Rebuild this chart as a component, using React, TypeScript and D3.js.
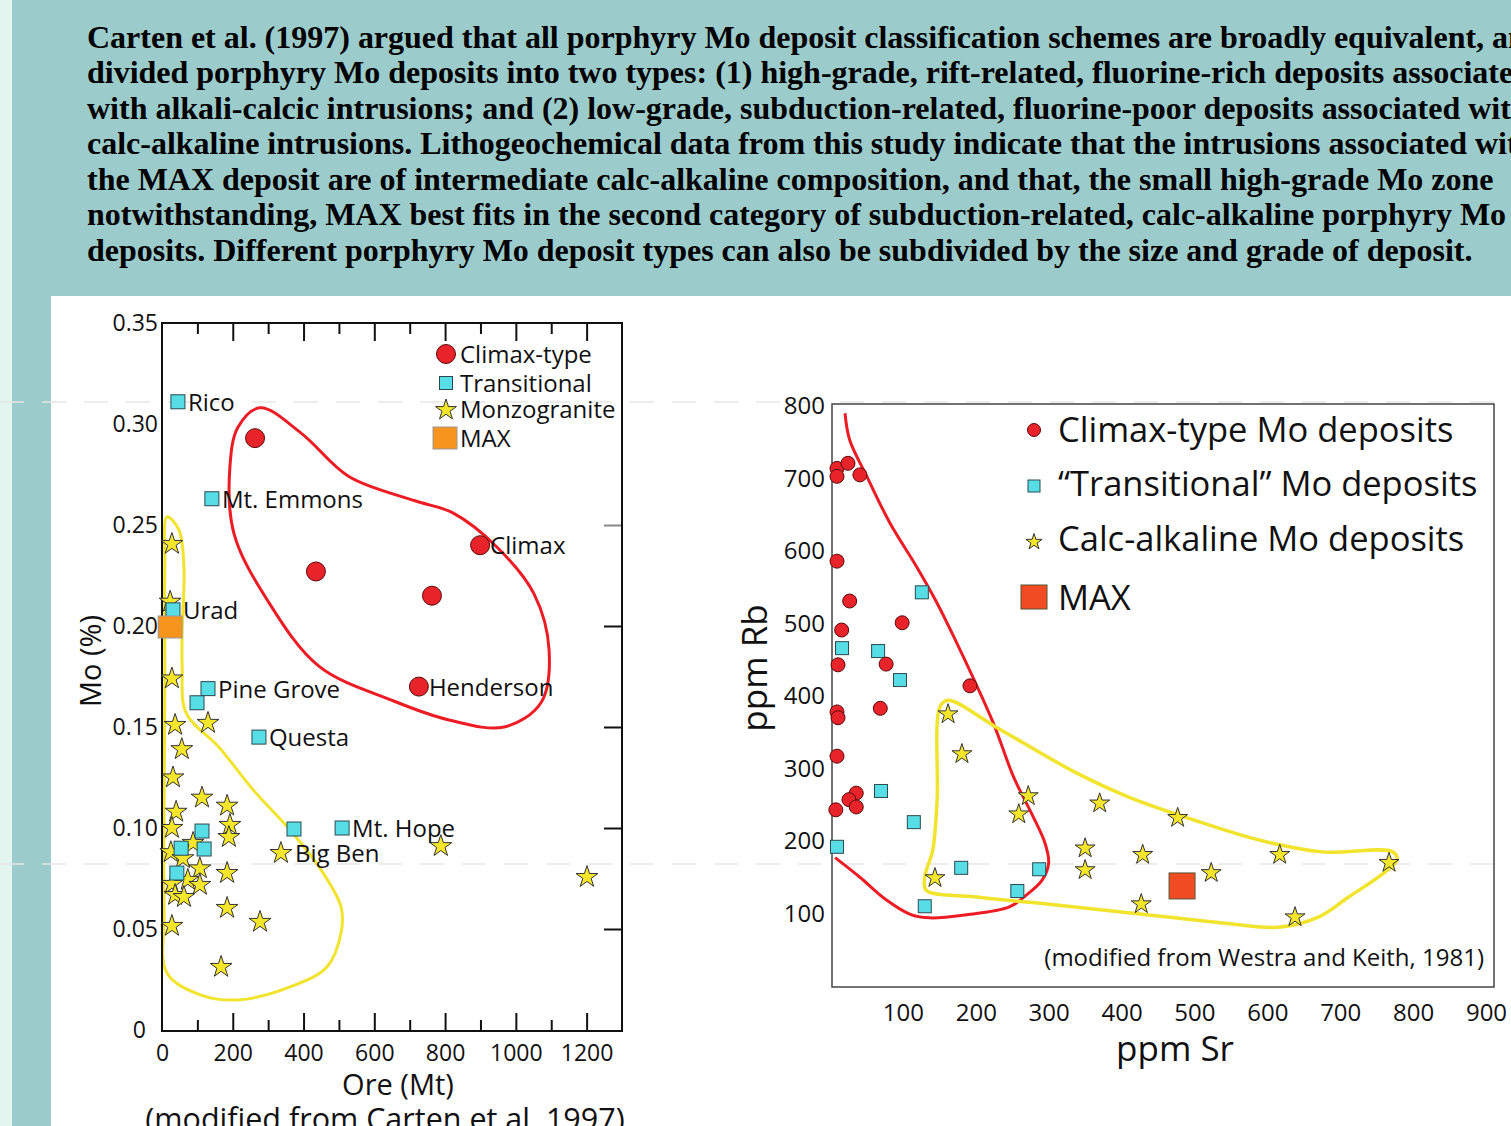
import React, { useEffect, useRef } from 'react';
import * as d3 from 'd3';

const headerLines = [
  'Carten et al. (1997) argued that all porphyry Mo deposit classification schemes are broadly equivalent, and',
  'divided porphyry Mo deposits into two types: (1) high-grade, rift-related, fluorine-rich deposits associated',
  'with alkali-calcic intrusions; and (2) low-grade, subduction-related, fluorine-poor deposits associated with',
  'calc-alkaline intrusions. Lithogeochemical data from this study indicate that the intrusions associated with',
  'the MAX deposit are of intermediate calc-alkaline composition, and that, the small high-grade Mo zone',
  'notwithstanding, MAX best fits in the second category of subduction-related, calc-alkaline porphyry Mo',
  'deposits. Different porphyry Mo deposit types can also be subdivided by the size and grade of deposit.',
];

// ---- left chart: Ore (Mt) vs Mo (%)
const oreTicks = [0, 200, 400, 600, 800, 1000, 1200];
const oreMajor = [200, 400, 600, 800, 1000, 1200];
const oreMinor = [100, 300, 500, 700, 900, 1100];
const moTicks = [0.05, 0.1, 0.15, 0.2, 0.25, 0.3, 0.35];
const moRightTicks = [0.05, 0.1, 0.15, 0.2];

const leftClimax = [
  { ore: 263, mo: 0.293, name: '' },
  { ore: 435, mo: 0.227, name: '' },
  { ore: 763, mo: 0.215, name: '' },
  { ore: 899, mo: 0.24, name: 'Climax' },
  { ore: 726, mo: 0.17, name: 'Henderson' },
];

const leftTransitional = [
  { ore: 45, mo: 0.311, name: 'Rico' },
  { ore: 141, mo: 0.263, name: 'Mt. Emmons' },
  { ore: 31, mo: 0.208, name: 'Urad' },
  { ore: 130, mo: 0.169, name: 'Pine Grove' },
  { ore: 99, mo: 0.162, name: '' },
  { ore: 274, mo: 0.145, name: 'Questa' },
  { ore: 373, mo: 0.0995, name: '' },
  { ore: 509, mo: 0.1, name: 'Mt. Hope' },
  { ore: 113, mo: 0.0985, name: '' },
  { ore: 54, mo: 0.09, name: '' },
  { ore: 119, mo: 0.0896, name: '' },
  { ore: 42, mo: 0.0777, name: '' },
];

const leftMonzogranite = [
  { ore: 28, mo: 0.2406, name: '' },
  { ore: 23, mo: 0.212, name: '' },
  { ore: 28, mo: 0.174, name: '' },
  { ore: 37, mo: 0.151, name: '' },
  { ore: 130, mo: 0.152, name: '' },
  { ore: 56, mo: 0.139, name: '' },
  { ore: 31, mo: 0.125, name: '' },
  { ore: 113, mo: 0.115, name: '' },
  { ore: 184, mo: 0.111, name: '' },
  { ore: 40, mo: 0.108, name: '' },
  { ore: 192, mo: 0.1015, name: '' },
  { ore: 28, mo: 0.1, name: '' },
  { ore: 189, mo: 0.0955, name: '' },
  { ore: 88, mo: 0.0926, name: '' },
  { ore: 25, mo: 0.088, name: '' },
  { ore: 59, mo: 0.085, name: '' },
  { ore: 107, mo: 0.08, name: '' },
  { ore: 184, mo: 0.0777, name: '' },
  { ore: 73, mo: 0.0743, name: '' },
  { ore: 28, mo: 0.0723, name: '' },
  { ore: 107, mo: 0.0718, name: '' },
  { ore: 37, mo: 0.0668, name: '' },
  { ore: 62, mo: 0.0658, name: '' },
  { ore: 184, mo: 0.0604, name: '' },
  { ore: 277, mo: 0.0535, name: '' },
  { ore: 28, mo: 0.0515, name: '' },
  { ore: 167, mo: 0.0312, name: '' },
  { ore: 336, mo: 0.0876, name: 'Big Ben' },
  { ore: 788, mo: 0.091, name: '' },
  { ore: 1201, mo: 0.0757, name: '' },
];

const leftMax = [{ ore: 23, mo: 0.1995 }];

// hand drawn fields (ore, mo)
const leftRedLoop = [
  [277, 0.308], [393, 0.2955], [528, 0.274], [715, 0.262], [822, 0.256], [947, 0.239],
  [1051, 0.216], [1094, 0.188], [1071, 0.162], [967, 0.15], [811, 0.1535], [653, 0.163],
  [444, 0.18], [297, 0.213], [203, 0.246], [192, 0.279], [215, 0.2985],
];
const leftYellowLoop = [
  [14, 0.254], [48, 0.2475], [62, 0.229], [57, 0.1965], [57, 0.18], [68, 0.157], [161, 0.14],
  [257, 0.119], [362, 0.099], [444, 0.0807], [506, 0.0609], [506, 0.048], [466, 0.0312],
  [362, 0.0213], [215, 0.0149], [110, 0.0173], [14, 0.0282], [6, 0.058], [6, 0.114],
  [8, 0.173], [8, 0.229],
];

// ---- right chart: ppm Sr vs ppm Rb
const srTicks = [100, 200, 300, 400, 500, 600, 700, 800, 900];
const rbTicks = [100, 200, 300, 400, 500, 600, 700, 800];

const rightClimax = [
  [9.6, 714], [9.6, 703], [24.7, 721], [41, 705], [9.6, 586], [27, 531], [16, 491], [99, 501],
  [11, 443], [77, 444], [192, 414], [69, 383], [9.6, 378], [11, 370], [9.6, 317], [36, 266],
  [26, 257], [36, 247], [8, 243],
];
const rightTransitional = [
  [126, 543], [16.5, 466], [66, 462], [96, 422], [70, 269], [115, 226], [9.6, 192], [180, 163],
  [287, 161], [257, 131], [130, 110],
];
const rightCalcAlkaline = [
  [162, 375], [181, 320], [272, 262], [259, 237], [370, 252], [477, 232], [350, 190], [429, 181],
  [350, 160], [523, 156], [617, 181], [767, 170], [144, 149], [427, 113], [638, 95],
];
const rightMax = [[483, 138]];

const rightRedCurve = [
  [20.6, 790], [27, 753], [51, 702], [82, 639], [119, 578], [147, 528], [174, 473], [196, 426],
  [224, 363], [252, 288], [276, 239], [295, 197], [300, 170], [291, 146], [270, 126], [246, 109],
  [185, 98], [137, 94], [112, 98], [77, 119], [41, 150], [7, 177],
];
const rightYellowLoop = [
  [162, 394], [228, 357], [336, 295], [409, 261], [499, 229], [590, 201], [675, 185], [772, 185],
  [778, 174], [760, 156], [712, 123], [670, 95], [615, 81], [530, 88], [409, 101], [288, 114],
  [198, 123], [132, 132], [130, 150], [141, 188], [147, 257], [151, 385],
];

const RED = '#e8232a';
const CYAN = '#56dde6';
const YELLOW = '#f5e62a';
const SANS = '"Open Sans", "Noto Sans", sans-serif';

const App = () => {
  const svgRef = useRef<SVGSVGElement>(null);

  useEffect(() => {
    document.body.style.margin = '0';
    const svg = d3.select(svgRef.current);
    svg.selectAll('*').remove();

    // background panels
    svg.append('rect').attr('width', 1511).attr('height', 1126).attr('fill', '#e2f5ee');
    svg.append('rect').attr('x', 12).attr('width', 1499).attr('height', 1126).attr('fill', '#9ccbcc');
    svg.append('rect').attr('x', 51).attr('y', 296).attr('width', 1460).attr('height', 830).attr('fill', '#fff');

    [402, 864].forEach(y => {
      svg.append('line')
        .attr('x1', 0).attr('x2', 1511).attr('y1', y).attr('y2', y)
        .attr('stroke', '#e6e6e6').attr('stroke-width', 1.5).attr('stroke-dasharray', '24 18');
    });

    // header text, squeezed horizontally like the slide
    const hdr = svg.append('g')
      .attr('font-family', '"Liberation Serif", "Times New Roman", serif')
      .attr('font-weight', 'bold')
      .attr('font-size', 32)
      .attr('fill', '#000');
    const lines = hdr.selectAll('text')
      .data(headerLines)
      .join('text')
      .attr('x', 0)
      .attr('y', (d, i) => 48 + i * 35.5)
      .text(d => d);
    const lastLen = (lines.nodes()[6] as SVGTextElement).getComputedTextLength() || 1386;
    hdr.attr('transform', `translate(87,0) scale(${1386 / lastLen},1)`);

    const star = (r: number) => d3.symbol().type(d3.symbolStar).size((r * r) / 0.8908130915292852)();

    // ================= left chart =================
    const xL = d3.scaleLinear().domain([0, 1300]).range([162, 622]);
    const yL = d3.scaleLinear().domain([0, 0.35]).range([1030, 323]);
    const gL = svg.append('g').attr('font-family', SANS);

    const loop = d3.line<number[]>().curve(d3.curveCatmullRomClosed.alpha(0.5));
    gL.append('path')
      .attr('d', loop.x(d => xL(d[0])).y(d => yL(d[1]))(leftYellowLoop))
      .attr('fill', 'none').attr('stroke', '#f2e42c').attr('stroke-width', 3);
    gL.append('path')
      .attr('d', loop.x(d => xL(d[0])).y(d => yL(d[1]))(leftRedLoop))
      .attr('fill', 'none').attr('stroke', '#ec1c24').attr('stroke-width', 3);

    // ticks
    const tickAxis = (axis: any, tr: string, color = '#111') => {
      const g = gL.append('g').attr('transform', tr).call(axis);
      g.select('.domain').remove();
      g.selectAll('line').attr('stroke', color).attr('stroke-width', 2);
      g.selectAll('text').remove();
    };
    tickAxis(d3.axisTop(xL).tickValues(oreMajor).tickSize(-18), 'translate(0,323)');
    tickAxis(d3.axisTop(xL).tickValues(oreMinor).tickSize(-11), 'translate(0,323)');
    tickAxis(d3.axisBottom(xL).tickValues(oreMajor).tickSize(-18), 'translate(0,1031)');
    tickAxis(d3.axisBottom(xL).tickValues(oreMinor).tickSize(-11), 'translate(0,1031)');
    tickAxis(d3.axisLeft(yL).tickValues(moRightTicks).tickSize(18), 'translate(622,0)');
    tickAxis(d3.axisLeft(yL).tickValues([0.25]).tickSize(18), 'translate(622,0)', '#888');

    gL.append('rect')
      .attr('x', xL(0)).attr('y', yL(0.35))
      .attr('width', xL(1300) - xL(0)).attr('height', 1031 - yL(0.35))
      .attr('fill', 'none').attr('stroke', '#111').attr('stroke-width', 2);

    const xLab = gL.append('g').attr('transform', 'translate(0,1031)')
      .call(d3.axisBottom(xL).tickValues(oreTicks).tickSize(0).tickPadding(14).tickFormat(d3.format('d')));
    xLab.select('.domain').remove();
    xLab.selectAll('text').attr('font-size', 23).attr('font-family', SANS).attr('fill', '#111');

    const yLab = gL.append('g').attr('transform', 'translate(162,0)')
      .call(d3.axisLeft(yL).tickValues(moTicks).tickSize(0).tickPadding(4).tickFormat(d3.format('.2f')));
    yLab.select('.domain').remove();
    yLab.selectAll('text').attr('font-size', 23).attr('font-family', SANS).attr('fill', '#111');
    // the zero label sits a little further left
    const zLab = gL.append('g').attr('transform', 'translate(162,0)')
      .call(d3.axisLeft(yL).tickValues([0]).tickSize(0).tickPadding(16).tickFormat(d3.format('d')));
    zLab.select('.domain').remove();
    zLab.selectAll('text').attr('font-size', 23).attr('font-family', SANS).attr('fill', '#111');

    gL.append('text').attr('x', 398).attr('y', 1095).attr('text-anchor', 'middle')
      .attr('font-size', 29).attr('fill', '#111').text('Ore (Mt)');
    gL.append('text').attr('x', 385).attr('y', 1130).attr('text-anchor', 'middle')
      .attr('font-size', 30.5).attr('fill', '#111').text('(modified from Carten et al. 1997)');
    gL.append('text').attr('transform', 'translate(101,661) rotate(-90)').attr('text-anchor', 'middle')
      .attr('font-size', 29).attr('fill', '#111').text('Mo (%)');

    // points
    gL.append('g').selectAll('path')
      .data(leftMonzogranite)
      .join('path')
      .attr('d', star(11.5))
      .attr('transform', d => `translate(${xL(d.ore)},${yL(d.mo)})`)
      .attr('fill', YELLOW).attr('stroke', '#333').attr('stroke-width', 1);
    gL.append('g').selectAll('rect')
      .data(leftTransitional)
      .join('rect')
      .attr('x', d => xL(d.ore) - 7).attr('y', d => yL(d.mo) - 7)
      .attr('width', 14).attr('height', 14)
      .attr('fill', CYAN).attr('stroke', '#2a4a50').attr('stroke-width', 1);
    gL.append('g').selectAll('circle')
      .data(leftClimax)
      .join('circle')
      .attr('cx', d => xL(d.ore)).attr('cy', d => yL(d.mo)).attr('r', 9.5)
      .attr('fill', RED).attr('stroke', '#5a0a0a').attr('stroke-width', 1);
    gL.append('g').selectAll('rect')
      .data(leftMax)
      .join('rect')
      .attr('x', d => xL(d.ore) - 12).attr('y', d => yL(d.mo) - 11)
      .attr('width', 24).attr('height', 22)
      .attr('fill', '#f7941e').attr('stroke', '#999').attr('stroke-width', 1);

    const named = [...leftClimax, ...leftTransitional, ...leftMonzogranite].filter(d => d.name);
    gL.append('g').selectAll('text')
      .data(named)
      .join('text')
      .attr('x', d => xL(d.ore) + (d.name === 'Big Ben' ? 14 : 10))
      .attr('y', d => yL(d.mo) + 9)
      .attr('font-size', 24).attr('fill', '#111')
      .text(d => d.name);

    // legend
    const lg = gL.append('g').attr('font-size', 24).attr('fill', '#111');
    lg.append('circle').attr('cx', 446).attr('cy', 354).attr('r', 9.5).attr('fill', RED).attr('stroke', '#5a0a0a');
    lg.append('rect').attr('x', 439.5).attr('y', 376.5).attr('width', 13).attr('height', 13).attr('fill', CYAN).attr('stroke', '#2a4a50');
    lg.append('path').attr('d', star(11)).attr('transform', 'translate(446,410)').attr('fill', YELLOW).attr('stroke', '#333');
    lg.append('rect').attr('x', 433).attr('y', 427).attr('width', 24).attr('height', 22).attr('fill', '#f7941e').attr('stroke', '#999');
    [['Climax-type', 363], ['Transitional', 392], ['Monzogranite', 418], ['MAX', 447]].forEach(([t, y]) => {
      lg.append('text').attr('x', 460).attr('y', y as number).text(t as string);
    });

    // ================= right chart =================
    const xR = d3.scaleLinear().domain([0, 900]).range([830, 1486]);
    const yR = d3.scaleLinear().domain([0, 800]).range([986, 406]);
    const gR = svg.append('g').attr('font-family', SANS);

    gR.append('rect').attr('x', 832).attr('y', 404).attr('width', 662).attr('height', 583)
      .attr('fill', 'none').attr('stroke', '#444').attr('stroke-width', 1.5);

    gR.append('path')
      .attr('d', d3.line<number[]>().curve(d3.curveCatmullRom.alpha(0.5)).x(d => xR(d[0])).y(d => yR(d[1]))(rightRedCurve))
      .attr('fill', 'none').attr('stroke', '#ec1c24').attr('stroke-width', 3);
    gR.append('path')
      .attr('d', d3.line<number[]>().curve(d3.curveCatmullRomClosed.alpha(0.5)).x(d => xR(d[0])).y(d => yR(d[1]))(rightYellowLoop))
      .attr('fill', 'none').attr('stroke', '#f2e42c').attr('stroke-width', 3.5);

    const xRLab = gR.append('g').attr('transform', 'translate(0,987)')
      .call(d3.axisBottom(xR).tickValues(srTicks).tickSize(0).tickPadding(17));
    xRLab.select('.domain').remove();
    xRLab.selectAll('text').attr('font-size', 24).attr('font-family', SANS).attr('fill', '#111');
    const yRLab = gR.append('g').attr('transform', 'translate(832,0)')
      .call(d3.axisLeft(yR).tickValues(rbTicks).tickSize(0).tickPadding(7));
    yRLab.select('.domain').remove();
    yRLab.selectAll('text').attr('font-size', 24).attr('font-family', SANS).attr('fill', '#111');

    gR.append('text').attr('x', 1175).attr('y', 1061).attr('text-anchor', 'middle')
      .attr('font-size', 35).attr('fill', '#111').text('ppm Sr');
    gR.append('text').attr('transform', 'translate(767,668) rotate(-90)').attr('text-anchor', 'middle')
      .attr('font-size', 35).attr('fill', '#111').text('ppm Rb');
    gR.append('text').attr('x', 1484).attr('y', 966).attr('text-anchor', 'end')
      .attr('font-size', 24).attr('fill', '#111').text('(modified from Westra and Keith, 1981)');

    gR.append('g').selectAll('path')
      .data(rightCalcAlkaline)
      .join('path')
      .attr('d', star(10.5))
      .attr('transform', d => `translate(${xR(d[0])},${yR(d[1])})`)
      .attr('fill', YELLOW).attr('stroke', '#333').attr('stroke-width', 1);
    gR.append('g').selectAll('rect')
      .data(rightTransitional)
      .join('rect')
      .attr('x', d => xR(d[0]) - 6.5).attr('y', d => yR(d[1]) - 6.5)
      .attr('width', 13).attr('height', 13)
      .attr('fill', CYAN).attr('stroke', '#2a4a50').attr('stroke-width', 1);
    gR.append('g').selectAll('circle')
      .data(rightClimax)
      .join('circle')
      .attr('cx', d => xR(d[0])).attr('cy', d => yR(d[1])).attr('r', 7)
      .attr('fill', RED).attr('stroke', '#5a0a0a').attr('stroke-width', 1);
    gR.append('g').selectAll('rect')
      .data(rightMax)
      .join('rect')
      .attr('x', d => xR(d[0]) - 13).attr('y', d => yR(d[1]) - 13)
      .attr('width', 26).attr('height', 26)
      .attr('fill', '#f04b23').attr('stroke', '#553').attr('stroke-width', 1);

    // legend
    const rg = gR.append('g').attr('font-size', 34.5).attr('fill', '#111');
    rg.append('circle').attr('cx', 1034).attr('cy', 430).attr('r', 6.5).attr('fill', RED).attr('stroke', '#5a0a0a');
    rg.append('rect').attr('x', 1028).attr('y', 480).attr('width', 12).attr('height', 12).attr('fill', CYAN).attr('stroke', '#2a4a50');
    rg.append('path').attr('d', star(8.5)).attr('transform', 'translate(1034,542)').attr('fill', YELLOW).attr('stroke', '#333');
    rg.append('rect').attr('x', 1021).attr('y', 585).attr('width', 26).attr('height', 24).attr('fill', '#f04b23').attr('stroke', '#553');
    [['Climax-type Mo deposits', 442], ['\u201CTransitional\u201D Mo deposits', 496], ['Calc-alkaline Mo deposits', 551], ['MAX', 610]]
      .forEach(([t, y]) => {
        rg.append('text').attr('x', 1058).attr('y', y as number).text(t as string);
      });
  }, []);

  return <svg ref={svgRef} width={1511} height={1126} style={{ display: 'block' }}></svg>;
};

export default App;
